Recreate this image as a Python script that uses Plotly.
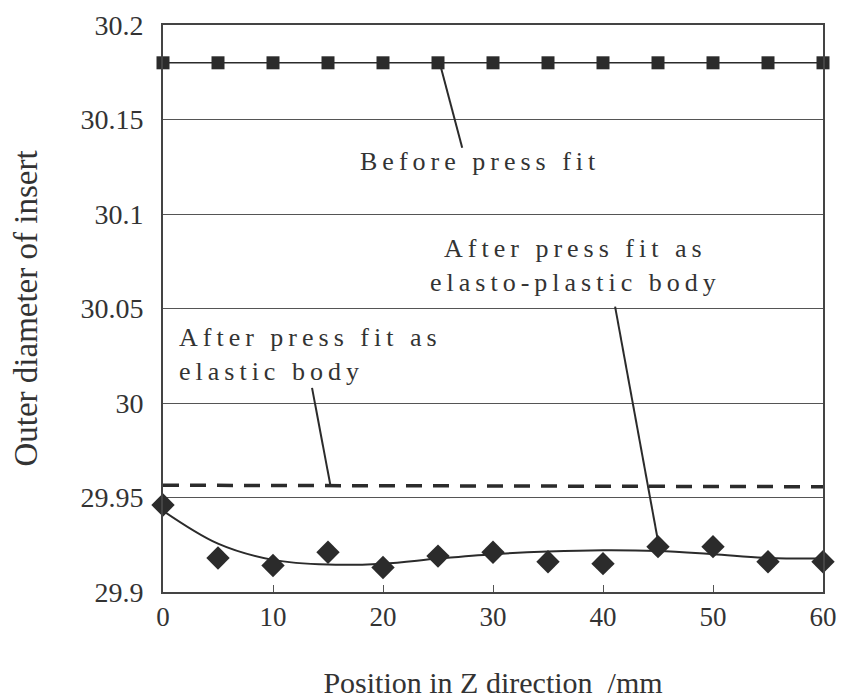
import plotly.graph_objects as go

# ---- data ----
positions = [0, 5, 10, 15, 20, 25, 30, 35, 40, 45, 50, 55, 60]
before_press_fit = [30.18] * 13
elastic_x = [0, 60]
elastic_body = [29.9565, 29.9557]
elasto_plastic = [29.946, 29.918, 29.914, 29.921, 29.913, 29.919, 29.921,
                  29.916, 29.915, 29.924, 29.924, 29.916, 29.916]
trend_x = [0, 5, 10, 15, 20, 25, 30, 35, 40, 45, 50, 55, 60]
trend_y = [29.943, 29.9256, 29.917, 29.9145, 29.915, 29.9177, 29.920,
           29.9214, 29.9221, 29.9217, 29.920, 29.918, 29.9177]
x_ticks = [0, 10, 20, 30, 40, 50, 60]
y_ticks = [29.9, 29.95, 30.0, 30.05, 30.1, 30.15, 30.2]
y_tick_text = ["29.9", "29.95", "30", "30.05", "30.1", "30.15", "30.2"]

INK = "#2b2b2b"
SERIF = "Liberation Serif"

fig = go.Figure()
fig.add_trace(go.Scatter(x=positions, y=before_press_fit, mode="lines+markers",
                         line=dict(color=INK, width=1.5),
                         marker=dict(symbol="square", size=13, color=INK),
                         showlegend=False, cliponaxis=False))
fig.add_trace(go.Scatter(x=elastic_x, y=elastic_body, mode="lines",
                         line=dict(color=INK, width=3.5, dash="16px,11px"),
                         showlegend=False))
fig.add_trace(go.Scatter(x=trend_x, y=trend_y, mode="lines",
                         line=dict(color=INK, width=2, shape="spline", smoothing=1.0),
                         showlegend=False))
fig.add_trace(go.Scatter(x=positions, y=elasto_plastic, mode="markers",
                         marker=dict(symbol="diamond", size=18, color=INK),
                         showlegend=False, cliponaxis=False))

ls = "letter-spacing:5px"
ann_font = dict(family=SERIF, size=26, color="#333333")
fig.add_annotation(x=28.8, y=30.128, xref="x", yref="y", showarrow=False,
                   text=f'<span style="{ls}">Before press fit</span>',
                   font=ann_font, xanchor="center", yanchor="middle")
fig.add_annotation(x=1.3, y=30.0255, xref="x", yref="y", showarrow=False,
                   text=f'<span style="{ls}">After press fit as</span><br><span style="{ls}">elastic body</span>',
                   font=ann_font, xanchor="left", yanchor="middle", align="left")
fig.add_annotation(x=37.5, y=30.0725, xref="x", yref="y", showarrow=False,
                   text=f'<span style="{ls}">After press fit as</span><br><span style="{ls}">elasto-plastic body</span>',
                   font=ann_font, xanchor="center", yanchor="middle", align="center")

# leader lines
leaders = [((25.2, 30.179), (27.2, 30.135)),
           ((13.55, 30.008), (15.2, 29.957)),
           ((41.1, 30.051), (45.0, 29.927))]
for (x0, y0), (x1, y1) in leaders:
    fig.add_shape(type="line", x0=x0, y0=y0, x1=x1, y1=y1, xref="x", yref="y",
                  line=dict(color=INK, width=2))

fig.update_layout(
    width=839, height=691,
    margin=dict(l=155, r=24, t=17, b=107, autoexpand=False),
    paper_bgcolor="white", plot_bgcolor="white",
    font=dict(family=SERIF, color="#333333"),
)
fig.update_xaxes(range=[0, 60], tickvals=x_ticks, ticks="inside", ticklen=7,
                 tickcolor="#555555", showgrid=False, zeroline=False,
                 showline=True, linecolor="#444444", linewidth=2, mirror=True,
                 tickfont=dict(family=SERIF, size=27, color="#333333"),
                 ticklabelstandoff=0,
                 title=dict(text="Position in Z direction  /mm",
                            font=dict(family=SERIF, size=30, color="#333333"),
                            standoff=43))
fig.update_yaxes(range=[29.9, 30.2], tickvals=y_ticks, ticktext=y_tick_text,
                 ticks="", showgrid=True, gridcolor="#555555", gridwidth=1,
                 zeroline=False, showline=True, linecolor="#444444", linewidth=2,
                 mirror=True, ticklabelstandoff=12,
                 tickfont=dict(family=SERIF, size=28, color="#333333"),
                 title=dict(text="Outer diameter of insert",
                            font=dict(family=SERIF, size=33, color="#333333"),
                            standoff=38))

fig.write_html("out.html")
